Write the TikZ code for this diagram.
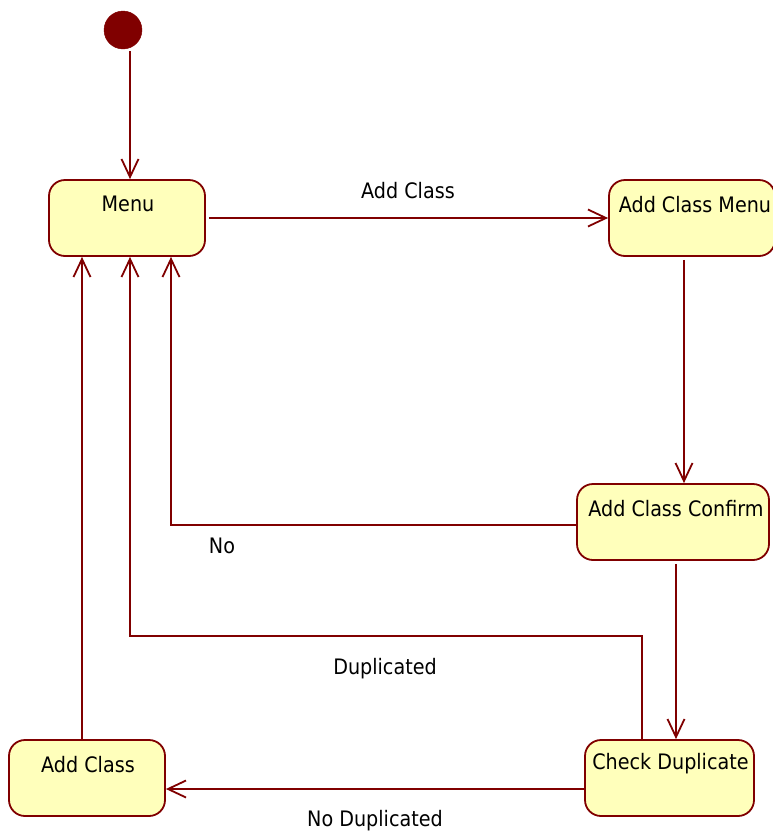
\documentclass[tikz,border=0pt]{standalone}
\usepackage{fontspec}
\setmainfont{DejaVu Sans Condensed}
\usetikzlibrary{arrows.meta,calc}
\definecolor{umlline}{HTML}{800000}
\definecolor{umlfill}{HTML}{FFFFBB}
\begin{document}
\begin{tikzpicture}[x=1pt,y=-1pt,
  statebox/.style={draw=umlline,fill=umlfill,line width=1.8pt,rounded corners=16pt,minimum height=76pt,inner sep=0pt},
  statetext/.style={font=\fontsize{21.3}{25}\selectfont,text=black,inner sep=0pt},
  trans/.style={draw=umlline,line width=1.8pt,-{Straight Barb[length=18pt,width=17pt,line width=1.8pt]}},
  translabel/.style={font=\fontsize{21.3}{25}\selectfont,text=black,inner sep=0pt}]
\useasboundingbox (0,0) rectangle (772,836);
% initial state
\node[circle,fill=umlline,draw=umlline,minimum size=38pt,inner sep=0pt] (init) at (123,30) {};
% states
\node[statebox,minimum width=156pt] (menu) at (127,218) {};
\node[statetext] (menut) at ([xshift=1pt,yshift=-25pt]menu.north) {Menu};
\node[statebox,minimum width=166pt] (acm) at (692,218) {};
\node[statetext] (acmt) at ([xshift=3pt,yshift=-25pt]acm.north) {Add Class Menu};
\node[statebox,minimum width=192pt] (acc) at (673,522) {};
\node[statetext] (acct) at ([xshift=3pt,yshift=-25pt]acc.north) {Add Class Confirm};
\node[statebox,minimum width=169pt] (cd) at (669.5,778) {};
\node[statetext] (cdt) at ([xshift=1pt,yshift=-25pt]cd.north) {Check Duplicate};
\node[statebox,minimum width=156pt] (ac) at (87,778) {};
\node[statetext] (act) at ([xshift=1pt,yshift=-25pt]ac.north) {Add Class};
% helper coordinates
\coordinate (dupstart) at ([xshift=-27.5pt]cd.north);
\coordinate (dupY) at (0,636);
\coordinate (dupend) at ([xshift=3pt]menu.south);
\coordinate (nostart) at ([yshift=-3pt]acc.west);
\coordinate (noend) at ([xshift=44pt]menu.south);
% transitions
\draw[trans] ([xshift=7pt,yshift=-2pt]init.south) -- ([xshift=3pt]menu.north);
\draw[trans] ([xshift=3pt]menu.east) -- (acm.west |- menu.east);
\draw[trans] ([xshift=-8pt,yshift=-3pt]acm.south) -- ([xshift=11pt]acc.north);
\draw[trans] ([xshift=3pt,yshift=-3pt]acc.south) -- ([xshift=6.5pt]cd.north);
\draw[trans] (nostart) -| (noend);
\draw[trans] (dupstart) -- (dupstart |- dupY) -| (dupend);
\draw[trans] ([yshift=-11pt]cd.west) -- ([yshift=-11pt]ac.east);
\draw[trans] ([xshift=-5pt]ac.north) -- ([xshift=-45pt]menu.south);
% labels
\node[translabel] (l1) at (408,191) {Add Class};
\node[translabel] (l2) at (222,546) {No};
\node[translabel] (l3) at (385,669) {Duplicated};
\node[translabel] (l4) at (375,821) {No Duplicated};
\end{tikzpicture}
\end{document}
